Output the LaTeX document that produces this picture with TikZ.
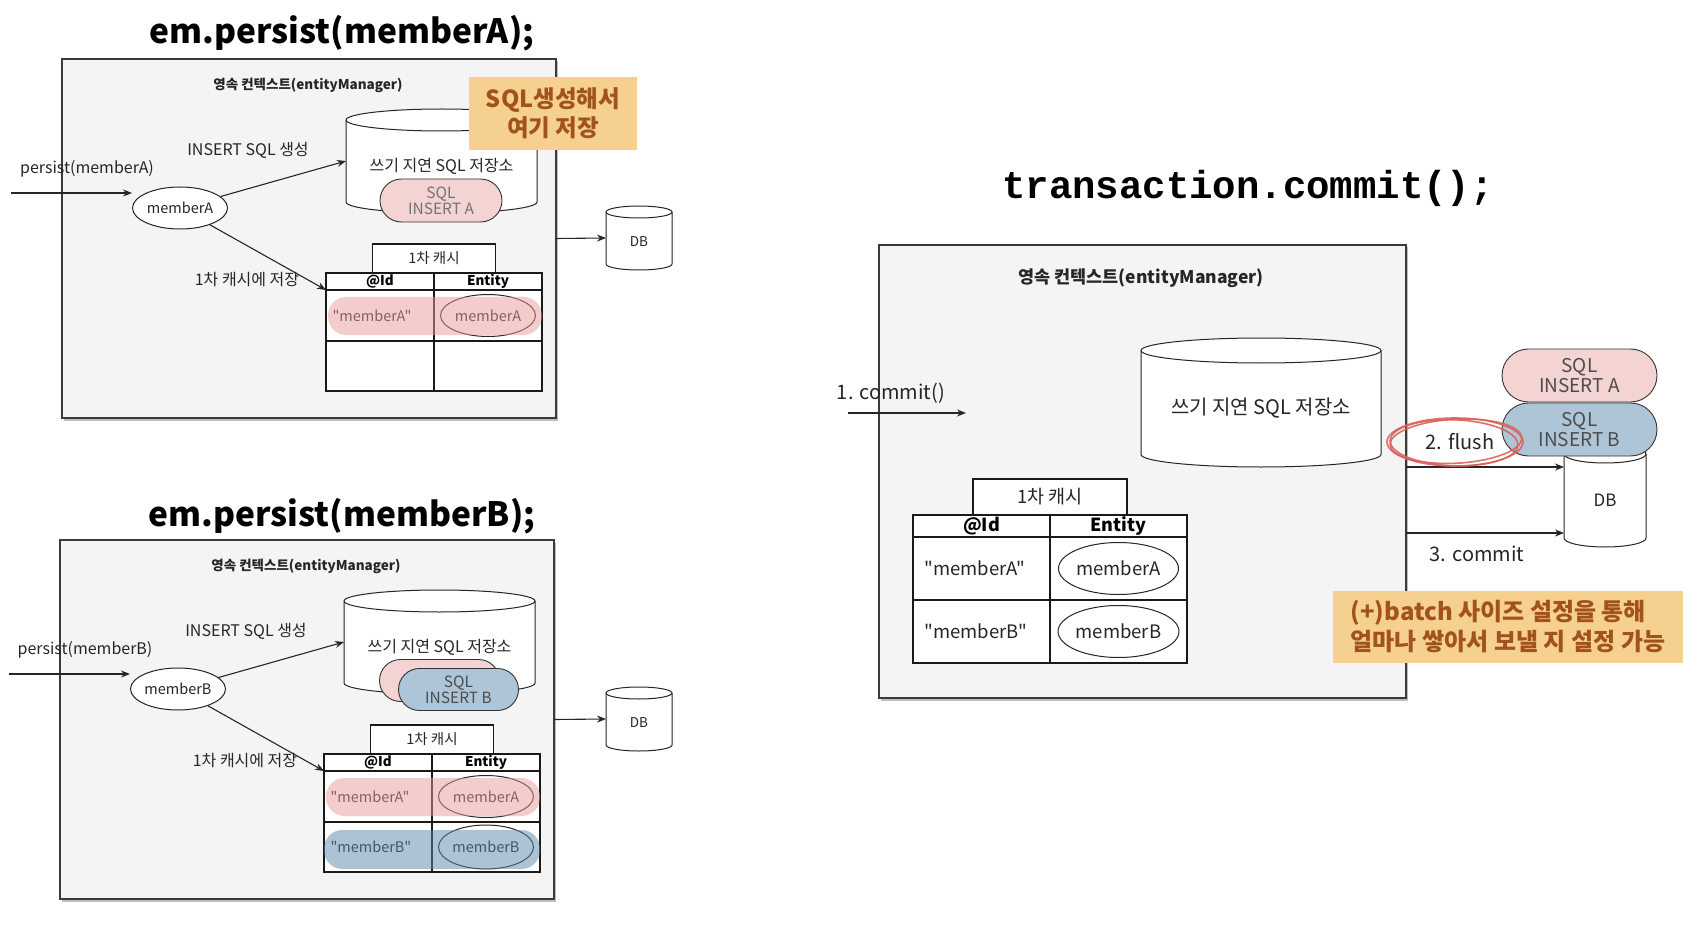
\documentclass[tikz,border=0pt]{standalone}
\usepackage{fontspec}
\setmainfont{Noto Sans CJK KR}
\newfontfamily\keyfont{Noto Sans CJK KR}
\newfontfamily\codefont{Liberation Mono}
\usetikzlibrary{positioning,shapes.geometric,shapes.misc,arrows.meta,shadows}

\definecolor{ctxgray}{HTML}{F4F4F4}
\definecolor{framegray}{HTML}{3A3A3A}
\definecolor{notefill}{HTML}{F6D08F}
\definecolor{notetext}{HTML}{A2521C}
\definecolor{pinkfill}{HTML}{F4D4D2}
\definecolor{bluefill}{HTML}{AEC5D7}
\definecolor{pinkband}{HTML}{E79D99}
\definecolor{blueband}{HTML}{5989AD}
\definecolor{flushred}{HTML}{D9625A}

% cylinder drawn round an empty node: node, x radius, end radius
\newcommand\drawcyl[3]{%
  \filldraw[cylline] ([yshift=-#3]#1.north west) -- ([yshift=#3]#1.south west)
    arc[start angle=180, end angle=360, x radius=#2, y radius=#3]
    -- ([yshift=-#3]#1.north east)
    arc[start angle=0, end angle=180, x radius=#2, y radius=#3] -- cycle;
  \draw[cylline, fill=none] ([yshift=-#3]#1.north west)
    arc[start angle=180, end angle=360, x radius=#2, y radius=#3];
}

\tikzset{
  ctxframe/.style={draw=framegray, fill=ctxgray, line width=1.4pt, inner sep=0pt, outer sep=0pt,
    drop shadow={shadow xshift=1.5pt, shadow yshift=-2.5pt, fill=black, opacity=.25}},
  titletext/.style={font=\bfseries\fontsize{33.5}{38}\selectfont},
  codetitle/.style={font=\codefont\bfseries\fontsize{39}{44}\selectfont},
  hdr/.style={font=\bfseries\fontsize{13.5}{16}\selectfont, text=black!85},
  hdrc/.style={font=\bfseries\fontsize{17.5}{20}\selectfont, text=black!85},
  lbl/.style={font=\fontsize{16}{19}\selectfont, text=black!85},
  lblc/.style={font=\fontsize{20}{24}\selectfont, text=black!85},
  smalltext/.style={font=\fontsize{14.5}{17}\selectfont, text=black!85},
  smallc/.style={font=\fontsize{18.5}{22}\selectfont, text=black!85},
  notebox/.style={fill=notefill, text=notetext, inner sep=0pt},
  cylbox/.style={inner sep=0pt, outer sep=0pt},
  cylline/.style={draw=black!85, fill=white, line width=1pt},
  pill/.style={rounded rectangle, draw=black!80, line width=.9pt, inner sep=0pt, align=center,
    minimum width=122pt, minimum height=43pt, text=black!55, font=\fontsize{15.5}{16}\selectfont},
  pillc/.style={pill, minimum width=155pt, minimum height=53pt, text=black!70, font=\fontsize{19}{20}\selectfont},
  obj/.style={ellipse, draw=black!85, fill=white, line width=1pt, inner sep=0pt},
  cell/.style={rectangle, draw=black!90, fill=white, line width=1.1pt, inner sep=0pt, outer sep=0pt},
  arr/.style={draw=black!85, line width=1.1pt, -{Stealth[length=9pt, width=7pt]}},
  band/.style={fill opacity=.5, rounded corners=18.5pt},
  flushmark/.style={draw=flushred, line width=1.6pt, opacity=.9},
}

\begin{document}
\begin{tikzpicture}[x=1pt, y=-1pt]
\useasboundingbox (0,0) rectangle (1708,933);

%% em.persist(memberA)
\node[titletext] (titleA) at (342,33) {em.persist(memberA);};
\node[ctxframe, minimum width=494pt, minimum height=359pt] (ctxA) at (309,238.5) {};
\node[hdr] (hdrA) at (308,85) {영속 컨텍스트(entityManager)};

\node[cylbox, minimum width=191pt, minimum height=104pt] (storeA) at (441.5,161) {};
\drawcyl{storeA}{95.5pt}{11pt}
\node[lbl] (storeAt) at ([yshift=-5.5pt]storeA.center) {쓰기 지연 SQL 저장소};
\node[pill, fill=pinkfill] (sqlA) at (441,200.5) {SQL\\INSERT A};
\node[notebox, align=center, minimum width=168pt, minimum height=73pt,
  font=\bfseries\fontsize{23.5}{29}\selectfont] (noteA) at (553,113.5) {SQL생성해서\\여기 저장};

% 1st-level cache table
\node[cell, minimum width=108pt, minimum height=17pt, font=\bfseries\fontsize{13.5}{15}\selectfont] (idhA) at (380,281.5) {@Id};
\node[cell, minimum width=108pt, minimum height=17pt, font=\bfseries\fontsize{13.5}{15}\selectfont, right=0pt of idhA] (enthA) {Entity};
\node[cell, minimum width=108pt, minimum height=51pt, below=0pt of idhA] (id1A) {};
\node[cell, minimum width=108pt, minimum height=51pt, right=0pt of id1A] (ent1A) {};
\node[cell, minimum width=108pt, minimum height=50pt, below=0pt of id1A] (id2A) {};
\node[cell, minimum width=108pt, minimum height=50pt, right=0pt of id2A] (ent2A) {};
\node[cell, smalltext, minimum width=123pt, minimum height=29pt, above=0pt of idhA.north east] (cacheA) {1차 캐시};
\node[smalltext, anchor=west] (kA1) at ([xshift=3pt]id1A.west) {\keyfont "memberA"};
\node[obj, smalltext, minimum width=95pt, minimum height=42pt] (vA1) at (ent1A) {memberA};
\fill[band, pinkband] ([xshift=2pt,yshift=-7pt]id1A.north west) rectangle ([yshift=6pt]ent1A.south east);

\node[obj, smalltext, minimum width=95pt, minimum height=42pt] (memA) at (180,208) {memberA};
\coordinate (inA) at (11,193);
\draw[arr] (inA) -- (inA -| memA.west);
\node[lbl] (persistA) at (87,169) {persist(memberA)};
\draw[arr] (memA) -- (storeA.west);
\node[lbl] (genA) at (248,150) {INSERT SQL 생성};
\draw[arr] (memA) -- (idhA.south west);
\node[lbl] (putA) at (247,280) {1차 캐시에 저장};

\node[cylbox, minimum width=66pt, minimum height=64pt] (dbA) at (639,238) {};
\drawcyl{dbA}{33pt}{6pt}
\node[smalltext, font=\fontsize{13.5}{16}\selectfont] (dbAt) at ([yshift=-4pt]dbA.center) {DB};
\draw[arr] (ctxA.east) -- (dbA.west);

%% em.persist(memberB)
\begin{scope}[shift={(-2,481)}]
\node[titletext] (titleB) at (344,35) {em.persist(memberB);};
\node[ctxframe, minimum width=494pt, minimum height=359pt] (ctxB) at (309,238.5) {};
\node[hdr] (hdrB) at (308,85) {영속 컨텍스트(entityManager)};

\node[cylbox, minimum width=191pt, minimum height=104pt] (storeB) at (441.5,161) {};
\drawcyl{storeB}{95.5pt}{11pt}
\node[lbl] (storeBt) at ([yshift=-5.5pt]storeB.center) {쓰기 지연 SQL 저장소};
\node[pill, fill=pinkfill, minimum width=120pt, minimum height=42pt] (sqlBa) at (441.5,199.5) {};
\node[pill, fill=bluefill, minimum width=120pt, minimum height=42pt, text=black!70] (sqlBb) at (460.5,208.5) {SQL\\INSERT B};

\node[cell, minimum width=108pt, minimum height=17pt, font=\bfseries\fontsize{13.5}{15}\selectfont] (idhB) at (380,281.5) {@Id};
\node[cell, minimum width=108pt, minimum height=17pt, font=\bfseries\fontsize{13.5}{15}\selectfont, right=0pt of idhB] (enthB) {Entity};
\node[cell, minimum width=108pt, minimum height=51pt, below=0pt of idhB] (id1B) {};
\node[cell, minimum width=108pt, minimum height=51pt, right=0pt of id1B] (ent1B) {};
\node[cell, minimum width=108pt, minimum height=50pt, below=0pt of id1B] (id2B) {};
\node[cell, minimum width=108pt, minimum height=50pt, right=0pt of id2B] (ent2B) {};
\node[cell, smalltext, minimum width=123pt, minimum height=29pt, above=0pt of idhB.north east] (cacheB) {1차 캐시};
\node[smalltext, anchor=west] (kB1) at ([xshift=3pt]id1B.west) {\keyfont "memberA"};
\node[obj, smalltext, minimum width=95pt, minimum height=42pt] (vB1) at (ent1B) {memberA};
\node[smalltext, anchor=west] (kB2) at ([xshift=3pt]id2B.west) {\keyfont "memberB"};
\node[obj, smalltext, minimum width=95pt, minimum height=44pt] (vB2) at (ent2B) {memberB};
\fill[band, pinkband] ([xshift=2pt,yshift=-7pt]id1B.north west) rectangle ([yshift=6pt]ent1B.south east);
\fill[band, blueband] ([yshift=-8pt]id2B.north west) rectangle ([yshift=3pt]ent2B.south east);

\node[obj, smalltext, minimum width=95pt, minimum height=42pt] (memB) at (180,208) {memberB};
\coordinate (inB) at (11,193);
\draw[arr] (inB) -- (inB -| memB.west);
\node[lbl] (persistB) at (87,169) {persist(memberB)};
\draw[arr] (memB) -- (storeB.west);
\node[lbl] (genB) at (248,150) {INSERT SQL 생성};
\draw[arr] (memB) -- (idhB.south west);
\node[lbl] (putB) at (247,280) {1차 캐시에 저장};

\node[cylbox, minimum width=66pt, minimum height=64pt] (dbB) at (641,238) {};
\drawcyl{dbB}{33pt}{6pt}
\node[smalltext, font=\fontsize{13.5}{16}\selectfont] (dbBt) at ([yshift=-4pt]dbB.center) {DB};
\draw[arr] (ctxB.east) -- (dbB.west);
\end{scope}

%% transaction.commit()
\node[codetitle] (titleC) at (1248,188) {transaction.commit();};
\node[ctxframe, minimum width=527pt, minimum height=453pt] (ctxC) at (1142.5,471.5) {};
\node[hdrc] (hdrC) at (1141,278) {영속 컨텍스트(entityManager)};

\node[cylbox, minimum width=240pt, minimum height=129pt] (storeC) at (1261,402.5) {};
\drawcyl{storeC}{120pt}{12.5pt}
\node[lblc] (storeCt) at ([yshift=-6pt]storeC.center) {쓰기 지연 SQL 저장소};

\coordinate (cmtS) at (848,413);
\coordinate (cmtE) at (966,413);
\draw[arr] (cmtS) -- (cmtE);
\node[lblc] (commitC) at (891,393) {1. commit()};

\node[cell, minimum width=137pt, minimum height=22pt, font=\bfseries\fontsize{18}{20}\selectfont] (idhC) at (981.5,526) {@Id};
\node[cell, minimum width=137pt, minimum height=22pt, font=\bfseries\fontsize{18}{20}\selectfont, right=0pt of idhC] (enthC) {Entity};
\node[cell, minimum width=137pt, minimum height=63pt, below=0pt of idhC] (id1C) {};
\node[cell, minimum width=137pt, minimum height=63pt, right=0pt of id1C] (ent1C) {};
\node[cell, minimum width=137pt, minimum height=63pt, below=0pt of id1C] (id2C) {};
\node[cell, minimum width=137pt, minimum height=63pt, right=0pt of id2C] (ent2C) {};
\node[cell, smallc, minimum width=154pt, minimum height=36pt, above=0pt of idhC.north east] (cacheC) {1차 캐시};
\node[smallc, anchor=west] (kC1) at ([xshift=8pt]id1C.west) {\keyfont "memberA"};
\node[smallc, anchor=west] (kC2) at ([xshift=8pt]id2C.west) {\keyfont "memberB"};
\node[obj, smallc, minimum width=120pt, minimum height=52pt] (vC1) at (ent1C) {memberA};
\node[obj, smallc, minimum width=120pt, minimum height=52pt] (vC2) at (ent2C) {memberB};

\node[cylbox, minimum width=82pt, minimum height=102pt] (dbC) at (1605,496) {};
\drawcyl{dbC}{41pt}{9pt}
\node[smallc, font=\fontsize{17}{20}\selectfont] (dbCt) at ([yshift=-4pt]dbC.center) {DB};
\node[pillc, fill=pinkfill] (sqlCa) at (1579.5,375.5) {SQL\\INSERT A};
\node[pillc, fill=bluefill] (sqlCb) at (1579.5,429.5) {SQL\\INSERT B};

\draw[arr] ([yshift=4.5pt]ctxC.east) -- ([yshift=29pt]dbC.west);
\draw[arr] ([yshift=-61.5pt]ctxC.east) -- ([yshift=-37pt]dbC.west);
\node[lblc] (flushC) at (1460,442) {2. flush};
\node[lblc] (commit3C) at (1477,554) {3. commit};

\draw[flushmark] ([xshift=-5pt]flushC.center) ellipse[x radius=68pt, y radius=24pt];
\draw[flushmark, rotate around={3:(flushC.center)}] ([xshift=-4pt,yshift=1pt]flushC.center) ellipse[x radius=66pt, y radius=22pt];
\draw[flushmark, rotate around={-2:(flushC.center)}] ([xshift=-6pt,yshift=-1pt]flushC.center) ellipse[x radius=64pt, y radius=23pt];

\node[notebox, align=left, minimum width=350pt, minimum height=72pt,
  font=\bfseries\fontsize{24}{30}\selectfont] (noteC) at (1508,627)
  {(+)batch 사이즈 설정을 통해\\얼마나 쌓아서 보낼 지 설정 가능};
\end{tikzpicture}
\end{document}
